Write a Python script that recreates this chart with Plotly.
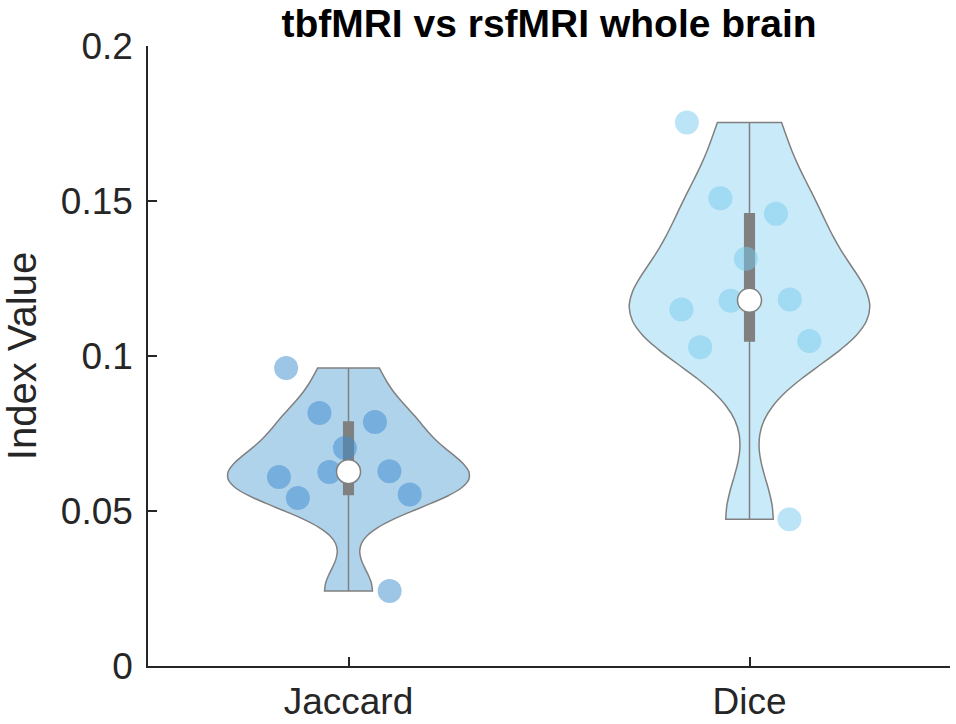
import numpy as np
import plotly.graph_objects as go

categories = ["Jaccard", "Dice"]
jaccard = [0.0961, 0.0816, 0.0787, 0.0703, 0.0610, 0.0626, 0.0628, 0.0542, 0.0553, 0.0242]
dice = [0.1753, 0.1509, 0.1459, 0.1314, 0.1150, 0.1178, 0.1182, 0.1028, 0.1048, 0.0473]
y_tickvals = [0, 0.05, 0.1, 0.15, 0.2]
y_ticktext = ["0", "0.05", "0.1", "0.15", "0.2"]

series = [jaccard, dice]
fills = ["rgb(176,211,236)", "rgb(201,234,248)"]
pts = ["rgba(60,140,205,0.5)", "rgba(119,202,238,0.5)"]
GRAY = "rgb(128,128,128)"
AX = "#262626"
FONT = "Liberation Sans, Arial, sans-serif"


def kde_bw(v):
    # normal-approximation bandwidth with a robust (MAD) spread estimate
    a = np.asarray(v)
    sig = np.median(np.abs(a - np.median(a))) / 0.6745
    return float(sig * (4.0 / (3.0 * len(a))) ** 0.2)


fig = go.Figure()
for cat, vals, fc, pc in zip(categories, series, fills, pts):
    fig.add_trace(go.Violin(
        x=[cat] * len(vals), y=vals, name=cat,
        spanmode="hard", scalemode="width", width=0.6,
        bandwidth=kde_bw(vals),
        fillcolor=fc, opacity=1,
        line=dict(color=GRAY, width=1.5),
        points="all", jitter=0.8, pointpos=0,
        marker=dict(color=pc, size=24, line=dict(width=0)),
        box=dict(visible=True, width=0.04, fillcolor=GRAY,
                 line=dict(color=GRAY, width=1.5)),
        meanline=dict(visible=False),
        quartilemethod="exclusive",
        hoverinfo="y", showlegend=False,
    ))

fig.add_trace(go.Scatter(
    x=categories, y=[float(np.median(v)) for v in series],
    mode="markers", showlegend=False,
    marker=dict(color="white", size=24, line=dict(color=GRAY, width=1.5)),
))

fig.update_layout(
    width=956, height=724,
    margin=dict(l=148, r=6, t=46, b=58, autoexpand=False),
    paper_bgcolor="white", plot_bgcolor="white",
    violinmode="overlay",
    font=dict(family=FONT, size=36, color=AX),
    title=dict(text="<b>tbfMRI vs rsfMRI whole brain</b>",
               font=dict(family=FONT, size=39, color="black"),
               x=(148 + 950) / 2 / 956, xanchor="center",
               y=1 - 10 / 724, yanchor="top"),
    xaxis=dict(type="category", categoryorder="array", categoryarray=categories,
               range=[-0.5, 1.5], showline=True, linecolor=AX, linewidth=1.5,
               ticks="inside", ticklen=9, tickwidth=1.5, tickcolor=AX,
               showgrid=False, zeroline=False, ticklabelstandoff=2,
               automargin=False, tickfont=dict(size=37)),
    yaxis=dict(range=[0, 0.2], tickvals=y_tickvals, ticktext=y_ticktext,
               showline=True, linecolor=AX, linewidth=1.5,
               ticks="inside", ticklen=9, tickwidth=1.5, tickcolor=AX,
               showgrid=False, zeroline=False, ticklabelstandoff=6,
               automargin=False, tickfont=dict(size=37),
               title=dict(text="Index Value", font=dict(size=40), standoff=20)),
)

fig.write_html("out.html", config={"displayModeBar": False},
               post_script="document.body.style.margin='0';document.body.style.overflow='hidden';")
